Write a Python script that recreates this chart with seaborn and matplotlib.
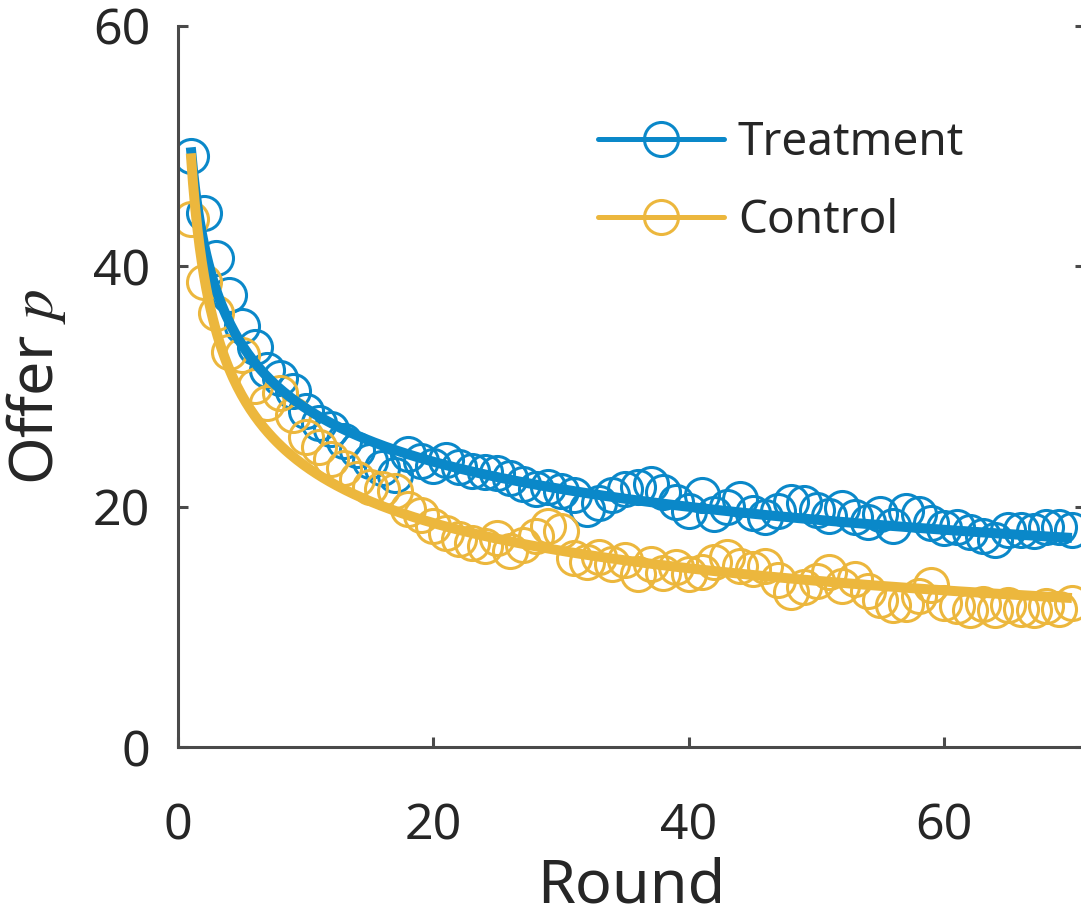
import numpy as np
import pandas as pd
import matplotlib
matplotlib.use("Agg")
import matplotlib.pyplot as plt
from matplotlib.lines import Line2D
import seaborn as sns

# Average offer per round for each group
rounds = list(range(1, 71))
treatment = [
    49.2, 44.4, 40.7, 37.6, 35.0, 33.3, 31.4, 30.7, 29.6, 28.0,
    27.0, 26.5, 25.5, 24.7, 23.8, 23.2, 22.6, 24.4, 23.8, 23.4,
    23.9, 23.3, 23.0, 22.9, 22.8, 22.4, 21.9, 21.5, 21.6, 21.3,
    21.0, 19.8, 20.3, 21.0, 21.5, 21.6, 21.9, 21.2, 20.4, 19.6,
    21.0, 19.4, 20.0, 20.6, 19.5, 19.1, 19.6, 20.4, 20.3, 19.7,
    19.2, 19.9, 19.1, 18.7, 19.4, 18.4, 19.6, 19.4, 18.6, 18.2,
    18.3, 17.9, 17.6, 17.2, 18.1, 18.1, 18.0, 18.3, 18.3, 18.1,
]
control = [
    43.9, 38.7, 36.1, 32.9, 32.6, 30.0, 28.6, 29.5, 27.6, 25.8,
    25.0, 24.0, 23.2, 22.3, 21.6, 21.5, 21.3, 19.8, 19.3, 18.4,
    17.8, 17.3, 17.0, 16.7, 17.4, 16.3, 16.8, 17.6, 18.4, 18.0,
    15.7, 15.4, 15.8, 15.2, 15.6, 14.4, 15.2, 14.5, 15.0, 14.4,
    14.6, 15.4, 15.8, 15.1, 14.8, 15.1, 13.9, 12.9, 13.3, 13.8,
    14.6, 13.4, 14.0, 13.0, 12.2, 11.8, 11.9, 12.6, 13.5, 12.0,
    11.7, 11.4, 11.9, 11.4, 11.8, 11.5, 11.4, 11.7, 11.5, 12.0,
]

# Power-law fits  p = a * round**b
fit_treatment = (49.9, -0.248)
fit_control = (49.4, -0.3254)

labels = ["Treatment", "Control"]
colors = ["#0a88c9", "#ecb73d"]
x_ticks = [0, 20, 40, 60]
y_ticks = [0, 20, 40, 60]

sns.set_theme(style="ticks")
plt.rcParams["font.family"] = ["Noto Sans", "DejaVu Sans"]
plt.rcParams["mathtext.fontset"] = "stix"

fig = plt.figure(figsize=(10.81, 9.21), dpi=100)
ax = fig.add_axes([0.1647, 0.1889, 0.8387, 0.7829])

df = pd.DataFrame({"round": rounds, "Treatment": treatment, "Control": control})
r_fine = np.linspace(1, 70, 400)

# Observed averages as open circles
for lab, col in zip(labels, colors):
    sns.lineplot(data=df, x="round", y=lab, ax=ax, linestyle="", marker="o",
                 markersize=24.5, markerfacecolor="none", markeredgecolor=col,
                 markeredgewidth=2.2, legend=False)

# Fitted curves
for (a, b), col in zip([fit_treatment, fit_control], colors):
    sns.lineplot(x=r_fine, y=a * r_fine ** b, ax=ax, color=col, linewidth=7.2,
                 solid_capstyle="butt", legend=False)

ax.set_xlim(0, 71)
ax.set_ylim(0, 60)
ax.set_xticks(x_ticks)
ax.set_yticks(y_ticks)
ax.spines["top"].set_visible(False)
ax.spines["right"].set_visible(False)
for s in ["left", "bottom"]:
    ax.spines[s].set_linewidth(2.2)
    ax.spines[s].set_color("#4a4a4a")
ax.tick_params(axis="both", direction="in", length=7.5, width=2.2,
               color="#4a4a4a", labelsize=36, labelcolor="#262626")
ax.tick_params(axis="x", pad=39)
ax.tick_params(axis="y", pad=20)
ax.tick_params(axis="y", right=True)

ax.set_xlabel("Round", fontsize=44, color="#262626", labelpad=4)
ax.set_ylabel("Offer $p$", fontsize=44, color="#262626", labelpad=18)

handles = [Line2D([0], [0], color=c, linewidth=3.6, marker="o", markersize=24.5,
                  markerfacecolor="none", markeredgecolor=c, markeredgewidth=2.2)
           for c in colors]
ax.legend(handles, labels, loc="upper left", bbox_to_anchor=(0.443, 0.895),
          frameon=False, fontsize=33, handlelength=2.75, handletextpad=0.3,
          labelspacing=0.7, borderaxespad=0)

fig.savefig("out.png", dpi=100, facecolor="white")
